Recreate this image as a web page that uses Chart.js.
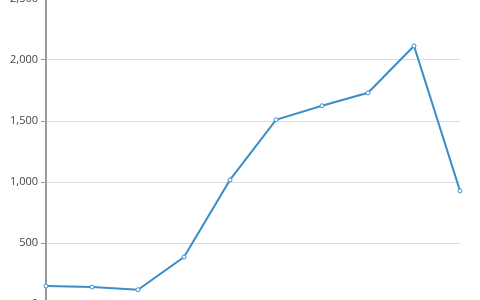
<!DOCTYPE html>
<html>
<head>
<meta charset="UTF-8">
<script src="https://cdn.jsdelivr.net/npm/chart.js"></script>
<style>
  html, body { margin: 0; padding: 0; background: #fff; overflow: hidden; }
  #wrap { position: absolute; left: 0; top: -11px; width: 480px; height: 340px; }
</style>
</head>
<body>
<div id="wrap"><canvas id="c"></canvas></div>
<script>
// values
const categories = ['1', '2', '3', '4', '5', '6', '7', '8', '9', '10'];
const values = [147, 139, 117, 385, 1017, 1510, 1625, 1731, 2115, 927];
const yTicks = [0, 500, 1000, 1500, 2000, 2500];

const lineColor = '#3b8fc6';

new Chart(document.getElementById('c'), {
    type: 'line',
    data: {
        labels: categories,
        datasets: [{
            data: values,
            borderColor: lineColor,
            borderWidth: 2,
            tension: 0,
            pointRadius: 2,
            pointBorderWidth: 1,
            pointBackgroundColor: '#fff',
            pointBorderColor: lineColor
        }]
    },
    options: {
        responsive: true,
        maintainAspectRatio: false,
        animation: false,
        layout: { padding: { top: 10, right: 20, bottom: 25, left: 0 } },
        plugins: { legend: { display: false }, tooltip: { enabled: false } },
        scales: {
            x: {
                offset: false,
                ticks: { display: false },
                grid: { display: false },
                border: { display: false },
                afterFit: s => { s.height = 0; }
            },
            y: {
                min: 0,
                max: 2500,
                afterBuildTicks: s => { s.ticks = yTicks.map(v => ({ value: v })); },
                afterFit: s => { s.width = 46; },
                ticks: {
                    color: '#444',
                    padding: 3,
                    font: { family: 'Open Sans', size: 11 },
                    callback: v => v.toLocaleString('en-US')
                },
                grid: {
                    color: '#dcdcdc',
                    lineWidth: 1,
                    drawTicks: true,
                    tickLength: 5,
                    tickColor: '#999'
                },
                border: { display: true, color: '#999', width: 2 }
            }
        }
    }
});
</script>
</body>
</html>
